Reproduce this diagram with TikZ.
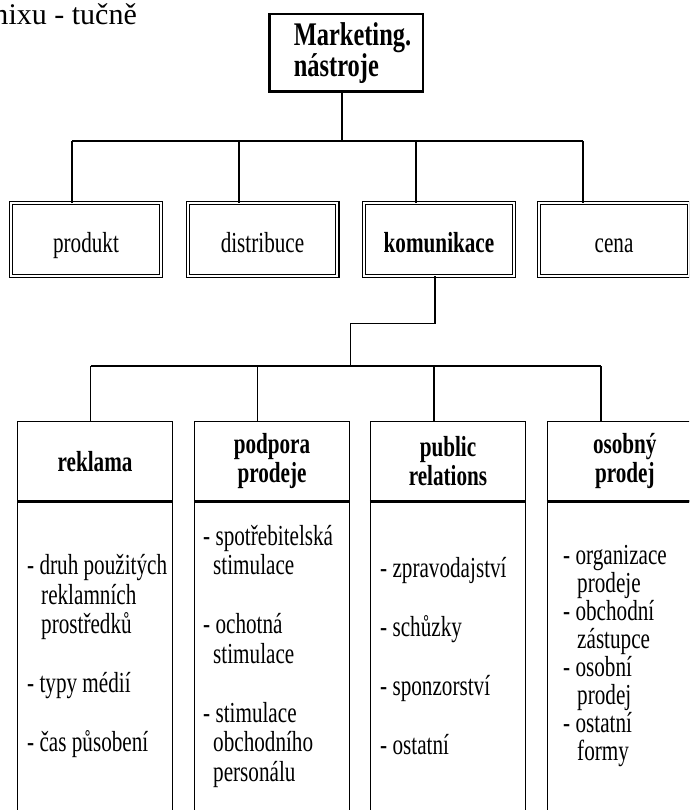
\documentclass[tikz,border=0pt]{standalone}
\usepackage{fontspec}
\setmainfont{Liberation Serif}[FakeStretch=0.73]
\newfontfamily\titlefont{Liberation Serif}[FakeStretch=0.74]
\newfontfamily\plainserif{Liberation Serif}
\newcommand\hind[1][14pt]{\hspace*{#1}}
\tikzset{
  conn/.style={line width=1.2pt},
  sep/.style={line width=2.5pt},
  hint/.style={anchor=base east, inner sep=0pt, font=\plainserif\fontsize{30}{36}\selectfont},
  topbox/.style={draw, line width=2.5pt, minimum width=153.5pt, minimum height=77.5pt,
    align=left, font=\titlefont\bfseries\fontsize{33}{30}\selectfont},
  midbox/.style={draw, line width=1.1pt, double, double distance=2pt,
    minimum width=149.8pt, minimum height=72.8pt, text height=30pt, text depth=5pt,
    font=\fontsize{29}{29}\selectfont},
  headbox/.style={draw, line width=1.2pt, minimum width=155pt, minimum height=79.4pt,
    align=center, font=\bfseries\fontsize{29}{29}\selectfont},
  bodybox/.style={draw, line width=1.2pt, minimum width=155pt, minimum height=324pt},
  bodytext/.style={anchor=west, align=left, inner sep=0pt, font=\fontsize{29}{29.5}\selectfont}
}
\begin{document}
\begin{tikzpicture}[x=1pt,y=-1pt]
\useasboundingbox (0,0) rectangle (689,810);
\clip (0,0) rectangle (689,810);
\node[hint] (hint) at (137,25) {mixu - tučně};
\node[topbox] (mn) at (346,53) {\hspace*{13pt}Marketing.\\\hspace*{13pt}nástroje};

\node[midbox] (produkt) at (86,239.5) {produkt};
\node[midbox] (distribuce) at (262.5,239.5) {distribuce};
\node[midbox, font=\bfseries\fontsize{29}{29}\selectfont] (komunikace) at (439,239.5) {komunikace};
\node[midbox] (cena) at (614,239.5) {cena};

\coordinate (a0) at (342,141);
\coordinate (a1) at (72,141);
\coordinate (a2) at (239,141);
\coordinate (a3) at (416,141);
\coordinate (a4) at (583,141);
\draw[conn] (mn.south -| a0) -- (a0);
\draw[conn] (a1) -- (a4);
\foreach \n/\c in {produkt/a1, distribuce/a2, komunikace/a3, cena/a4}
  \draw[conn] (\c) -- (\n.north -| \c);

\node[headbox] (h1) at (95.1,461.3) {reklama};
\node[headbox] (h2) at (272,461.3) {podpora\\prodeje};
\node[headbox] (h3) at (448,461.3) {public\\relations};
\node[headbox] (h4) at (624.8,461.3) {osobný\\prodej};
\foreach \n in {1,...,4} {
  \node[bodybox] (d\n) at (h\n.south |- 0,663) {};
  \draw[sep] (h\n.south west) -- (h\n.south east);
}

\coordinate (k1) at (435,323.3);
\coordinate (k2) at (350.6,366);
\coordinate (b1) at (90.5,366);
\coordinate (b2) at (257.5,366);
\coordinate (b3) at (434,366);
\coordinate (b4) at (601,366);
\draw[conn] (komunikace.south -| k1) -- (k1) -| (k2);
\draw[conn] (b1) -- (b4);
\foreach \n/\c in {h1/b1, h2/b2, h3/b3, h4/b4}
  \draw[conn] (\c) -- (\n.north -| \c);

\node[bodytext] (t1) at (27,656) {- druh použitých\\\hind reklamních\\\hind prostředků\\[29.5pt]- typy médií\\[29.5pt]- čas působení};
\node[bodytext] (t2) at (203,656) {- spotřebitelská\\\hind[10pt]stimulace\\[29.5pt]- ochotná\\\hind[10pt]stimulace\\[29.5pt]- stimulace\\\hind[10pt]obchodního\\\hind[10pt]personálu};
\node[bodytext] (t3) at (380,656) {- zpravodajství\\[29.5pt]- schůzky\\[29.5pt]- sponzorství\\[29.5pt]- ostatní};
\node[bodytext, font=\fontsize{29}{28}\selectfont] (t4) at (563,656) {- organizace\\\hind prodeje\\- obchodní\\\hind zástupce\\- osobní\\\hind prodej\\- ostatní\\\hind formy};
\end{tikzpicture}
\end{document}
